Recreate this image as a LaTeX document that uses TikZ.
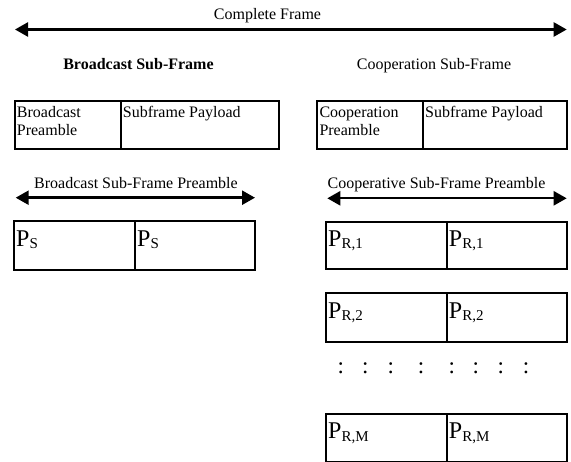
\documentclass[tikz,border=0pt]{standalone}
\usepackage{fontspec}
\setmainfont{Liberation Serif}
\usetikzlibrary{arrows.meta}
\tikzset{
  box/.style={draw, line width=1.8pt, inner sep=0pt, outer sep=0pt, anchor=north west},
  dblarrow/.style={line width=2.4pt, {Triangle[length=13pt,width=14pt]}-{Triangle[length=13pt,width=14pt]}},
  lbl/.style={inner sep=0pt, anchor=base, font=\fontsize{16}{18}\selectfont},
  boxtxt/.style={inner sep=0pt, anchor=base west, align=left, font=\fontsize{16}{18}\selectfont},
  ptxt/.style={inner sep=0pt, anchor=base west, font=\fontsize{24}{24}\selectfont},
  dots/.style={inner sep=0pt, anchor=base, font=\fontsize{23}{23}\selectfont}
}
\newcommand{\psub}[1]{P\raisebox{-2pt}{\fontsize{15}{15}\selectfont #1}}
\begin{document}
\begin{tikzpicture}[x=1pt,y=-1pt]
\useasboundingbox (0,0) rectangle (571,462);
% complete frame
\coordinate (cfL) at (15,29.5);
\coordinate (cfR) at (566.7,29.5);
\draw[dblarrow] (cfL) -- (cfR);
\node[lbl] (cf) at (267.5,19.5) {Complete Frame};
\node[lbl] (bsf) at (138.5,70) {\bfseries Broadcast Sub-Frame};
\node[lbl] (csf) at (434,69.5) {Cooperation Sub-Frame};
% top boxes
\node[box, minimum width=106pt, minimum height=48.3pt] (bp) at (14.7,100.7) {};
\node[box, minimum width=158.3pt, minimum height=48.3pt] (bpl) at (bp.north east) {};
\node[box, minimum width=106pt, minimum height=48.3pt] (cp) at (316.7,100.7) {};
\node[box, minimum width=144.3pt, minimum height=48.3pt] (cpl) at (cp.north east) {};
\node[boxtxt] (bpt) at ([xshift=2pt,yshift=-34.5pt]bp.north west) {Broadcast\\Preamble};
\node[boxtxt] (bplt) at ([xshift=2pt,yshift=-16.6pt]bpl.north west) {Subframe Payload};
\node[boxtxt] (cpt) at ([xshift=2.6pt,yshift=-34.5pt]cp.north west) {Cooperation\\Preamble};
\node[boxtxt] (cplt) at ([xshift=2.3pt,yshift=-16.6pt]cpl.north west) {Subframe Payload};
% preamble arrows
\coordinate (bsL) at (15.7,197.7);
\coordinate (bsR) at (255,197.7);
\draw[dblarrow] (bsL) -- (bsR);
\node[lbl] (bst) at (136,189) {Broadcast Sub-Frame Preamble};
\coordinate (csL) at (327.3,198.3);
\coordinate (csR) at (566.7,198.3);
\draw[dblarrow] (csL) -- (csR);
\node[lbl] (cst) at (436.5,189) {Cooperative Sub-Frame Preamble};
% P_S boxes
\node[box, minimum width=121pt, minimum height=49pt] (ps1) at (14,221) {};
\node[box, minimum width=120pt, minimum height=49pt] (ps2) at (ps1.north east) {};
\node[ptxt] at ([xshift=2pt,yshift=-25.7pt]ps1.north west) {\psub{S}};
\node[ptxt] at ([xshift=2pt,yshift=-25.7pt]ps2.north west) {\psub{S}};
% P_R boxes
\node[box, minimum width=120.7pt, minimum height=47pt] (pr1a) at (326,221.7) {};
\node[box, minimum width=120.6pt, minimum height=47pt] (pr1b) at (pr1a.north east) {};
\node[box, minimum width=120.7pt, minimum height=48.4pt] (pr2a) at (326,293.3) {};
\node[box, minimum width=120.6pt, minimum height=48.4pt] (pr2b) at (pr2a.north east) {};
\node[box, minimum width=120.7pt, minimum height=47.5pt] (prma) at (326,414) {};
\node[box, minimum width=120.6pt, minimum height=47.5pt] (prmb) at (prma.north east) {};
\node[ptxt] at ([xshift=2pt,yshift=-25pt]pr1a.north west) {\psub{R,1}};
\node[ptxt] at ([xshift=2pt,yshift=-25pt]pr1b.north west) {\psub{R,1}};
\node[ptxt] at ([xshift=2pt,yshift=-25pt]pr2a.north west) {\psub{R,2}};
\node[ptxt] at ([xshift=2pt,yshift=-25pt]pr2b.north west) {\psub{R,2}};
\node[ptxt] at ([xshift=2pt,yshift=-25pt]prma.north west) {\psub{R,M}};
\node[ptxt] at ([xshift=2pt,yshift=-25pt]prmb.north west) {\psub{R,M}};
% dots
\foreach \x [count=\i] in {340.7,365.3,390.7,421,451.7,475.7,500.7,526}
  \node[dots] (d\i) at (\x,373.5) {:};
\end{tikzpicture}
\end{document}
